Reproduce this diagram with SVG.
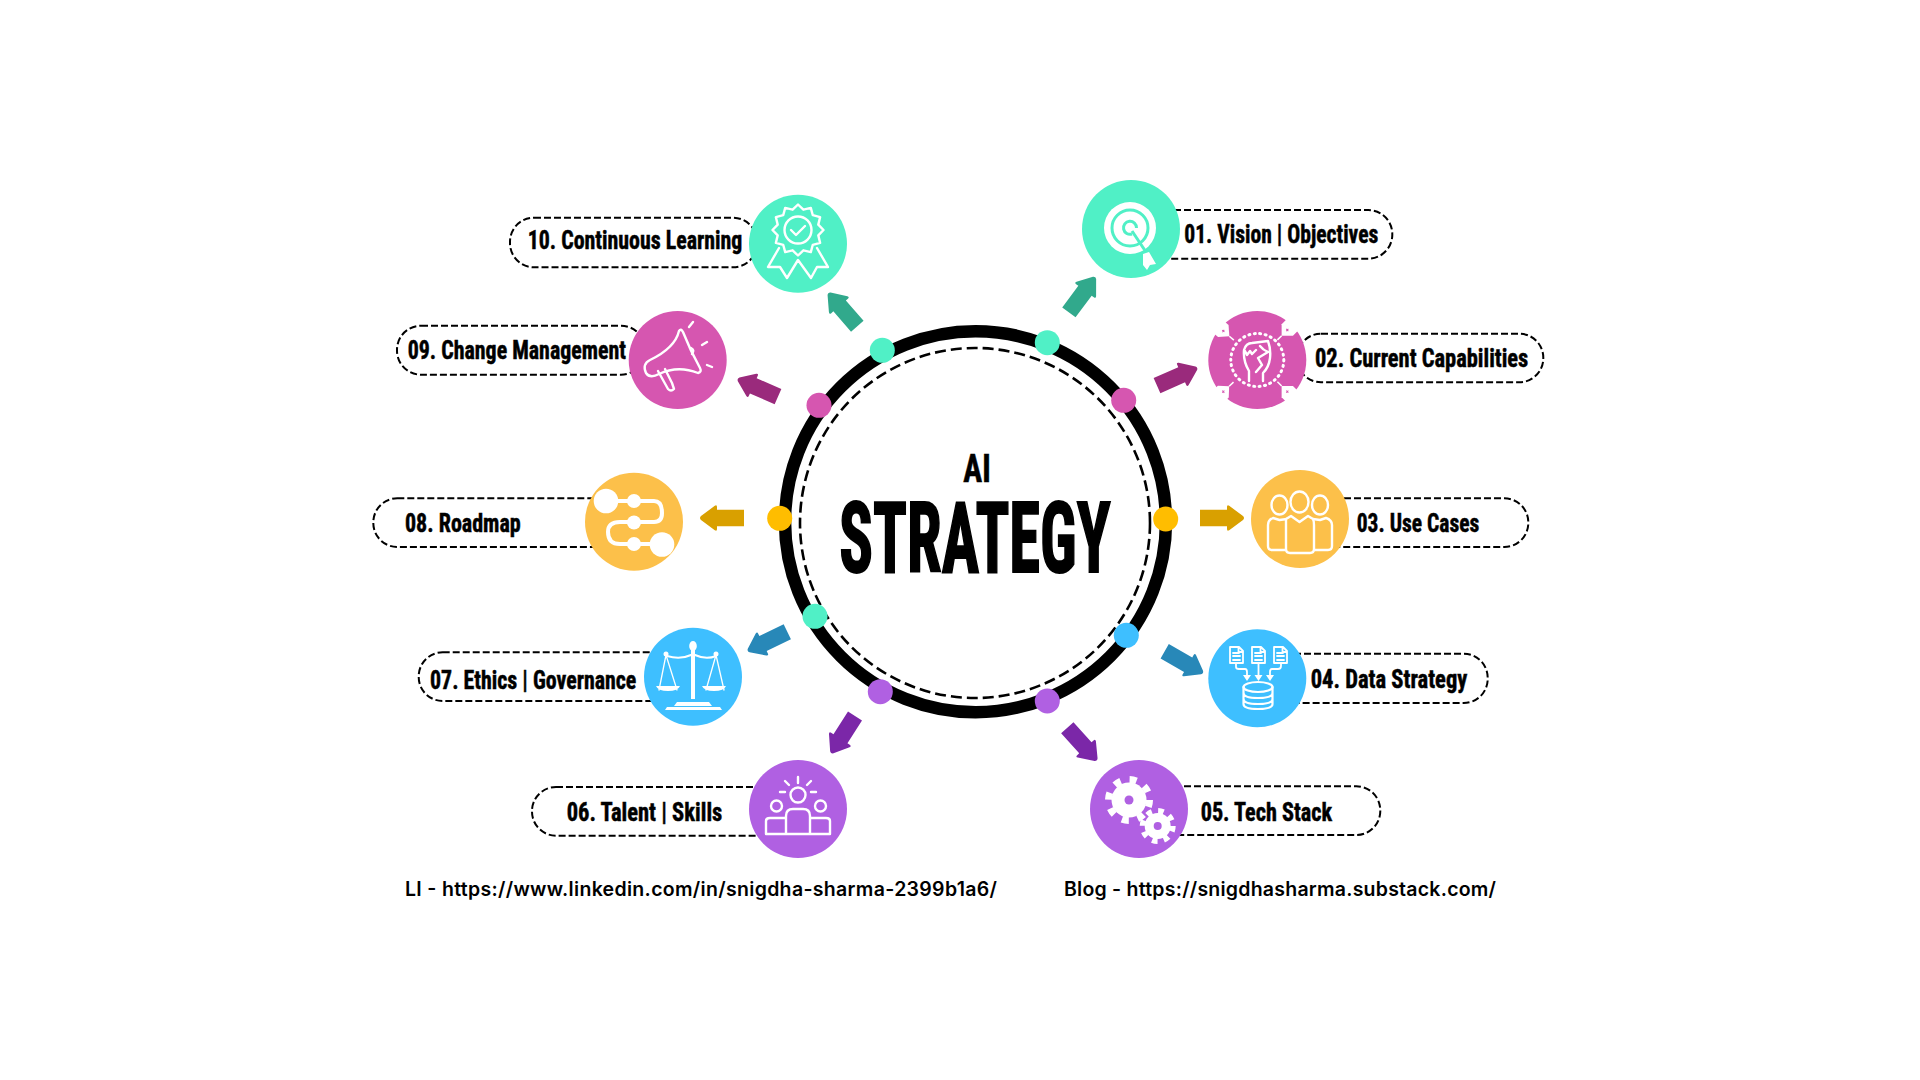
<svg xmlns="http://www.w3.org/2000/svg" width="1920" height="1080" viewBox="0 0 1920 1080">
<style>
text{font-family:"Liberation Sans Narrow","Roboto Condensed","Liberation Sans",sans-serif;font-weight:700;fill:#000}
.lb{font-size:26px;stroke:#000;stroke-width:.5px}
.url{font-family:Inter,"Noto Sans",sans-serif;font-size:19.500px;font-weight:600}
.pill{fill:#fff;stroke:#000;stroke-width:2;stroke-dasharray:7 3}
.ic{fill:none;stroke:#fff;stroke-width:2.4;stroke-linecap:round;stroke-linejoin:round}
.w{fill:#fff}
.teal{fill:#50F0C6}.pink{fill:#D656B0}.yel{fill:#FCC04A}.blue{fill:#3EBFFF}.pur{fill:#B060E2}
</style>
<defs>
<path id="arrow" d="M0 -8.300H27V-11Q27 -13.500 29.200 -12.200L43 -2Q45 0 43 2L29.200 12.200Q27 13.500 27 11V8.300H0Z"/>
<g id="notch"><path class="w" d="M-12 -8L0 -8L8 0L0 8L-12 8Z"/><path d="M8 0H14" stroke="#fff" stroke-width="1.500"/><path d="M-1.500 0H1.500M0 -1.500V1.500" stroke="#D656B0" stroke-width="1"/></g>
</defs>
<rect width="1920" height="1080" fill="#fff"/>
<g id="connectors">
<use href="#arrow" fill="#31A98C" transform="translate(1068.9 312.4) rotate(-53.4)"/>
<use href="#arrow" fill="#9A2A7C" transform="translate(1157 385.7) rotate(-24)"/>
<use href="#arrow" fill="#D9A000" transform="translate(1200 518)"/>
<use href="#arrow" fill="#2888B8" transform="translate(1164.7 651.3) rotate(29.7)"/>
<use href="#arrow" fill="#7B27A8" transform="translate(1067.3 727.7) rotate(48)"/>
<use href="#arrow" fill="#7B27A8" transform="translate(855 716) rotate(122.6)"/>
<use href="#arrow" fill="#2888B8" transform="translate(787.3 631.7) rotate(154)"/>
<use href="#arrow" fill="#D9A000" transform="translate(744 518) rotate(180)"/>
<use href="#arrow" fill="#9A2A7C" transform="translate(778 396.7) rotate(203.8)"/>
<use href="#arrow" fill="#31A98C" transform="translate(857.3 326.3) rotate(229)"/>
</g>
<g id="hub">
<circle cx="975.5" cy="521.7" r="190.5" fill="#fff" stroke="#000" stroke-width="12.5"/>
<circle cx="975" cy="523" r="175" fill="none" stroke="#000" stroke-width="2.6" stroke-dasharray="11 5"/>
<text x="963.3" y="482" font-size="38" textLength="27.4" lengthAdjust="spacingAndGlyphs" stroke="#000" stroke-width=".6">AI</text>
<text x="839.3" y="571.7" font-size="98" textLength="271.4" lengthAdjust="spacingAndGlyphs" stroke="#000" stroke-width="2">STRATEGY</text>
<circle class="teal" cx="882.3" cy="350.3" r="12.5"/><circle class="teal" cx="1047.3" cy="342.7" r="12.5"/>
<circle class="pink" cx="1123.7" cy="400.3" r="12.5"/><circle class="pink" cx="819" cy="405.3" r="12.5"/>
<circle fill="#FFBD00" cx="779.7" cy="518.3" r="12.5"/><circle fill="#FFBD00" cx="1165.7" cy="519" r="12.5"/>
<circle class="teal" cx="815" cy="616.3" r="12.5"/><circle class="blue" cx="1126.3" cy="635.3" r="12.5"/>
<circle class="pur" cx="880.3" cy="691.7" r="12.5"/><circle class="pur" cx="1047.3" cy="701" r="12.5"/>
</g>
<g id="node-01">
<rect class="pill" x="1100" y="210" width="292.3" height="48.7" rx="24"/>
<circle class="teal" cx="1131" cy="229" r="49"/>
<circle class="w" cx="1130" cy="228" r="26"/>
<circle fill="none" stroke="#50F0C6" stroke-width="3" cx="1130" cy="228" r="18"/>
<path fill="none" stroke="#50F0C6" stroke-width="3" d="M1136.500 228A6.500 6.500 0 1 0 1132 234"/>
<path stroke="#50F0C6" stroke-width="3" d="M1132 231L1146 252"/>
<path class="w" d="M1143 254L1149 252L1156 264L1150 265L1147 270L1143 265Z"/>
<text class="lb" x="1184.3" y="242.7" textLength="194" lengthAdjust="spacingAndGlyphs">01. Vision | Objectives</text>
</g>
<g id="node-02">
<rect class="pill" x="1297" y="333.7" width="246.3" height="48.6" rx="24"/>
<circle class="pink" cx="1257.3" cy="360" r="49"/>
<circle cx="1257.3" cy="360" r="26.5" fill="none" stroke="#fff" stroke-width="3" stroke-dasharray="1 4.5" stroke-linecap="round"/>
<use href="#notch" transform="translate(1223.300 331) rotate(41)"/>
<use href="#notch" transform="translate(1287.300 330) rotate(135)"/>
<use href="#notch" transform="translate(1287.300 391.700) rotate(225)"/>
<use href="#notch" transform="translate(1223.300 391.700) rotate(-43)"/>
<path class="ic" d="M1249 381V371Q1243 361 1244 350Q1246 343 1252 343L1268 341Q1271 349 1270 358Q1269 367 1263 373V381M1245 351L1247 355L1250 351L1252 354L1256 350M1260 346Q1263 350 1268 352M1268 352L1258 358L1262 365L1256 372"/>
<text class="lb" x="1315" y="366.7" textLength="213.3" lengthAdjust="spacingAndGlyphs">02. Current Capabilities</text>
</g>
<g id="node-03">
<rect class="pill" x="1260" y="498.3" width="268.3" height="48.7" rx="24"/>
<circle class="yel" cx="1300" cy="519" r="49"/>
<g class="ic">
<ellipse cx="1279.5" cy="505" rx="8" ry="9.5"/><ellipse cx="1320" cy="505" rx="8" ry="9.5"/><ellipse cx="1299.5" cy="502" rx="9" ry="10.5"/>
<path d="M1287 519L1279.5 520L1273 518Q1268 520 1268 525V546Q1268 550 1272 550H1286"/>
<path d="M1313 519L1320 520L1326 518Q1332 520 1332 525V546Q1332 550 1328 550H1314"/>
<path fill="#FCC04A" d="M1286 519L1291 516L1299.5 522L1308 516L1313 519Q1314 521 1314 525V549Q1314 553 1310 553H1290Q1286 553 1286 549Z"/>
</g>
<text class="lb" x="1356.7" y="531.7" textLength="122.6" lengthAdjust="spacingAndGlyphs">03. Use Cases</text>
</g>
<g id="node-04">
<rect class="pill" x="1220" y="653.7" width="267.7" height="49.3" rx="24"/>
<circle class="blue" cx="1257.3" cy="678.3" r="49"/>
<g class="ic" style="stroke-width:1.800">
<path d="M1230 647H1239L1243 651V663H1230ZM1233 653H1239M1233 656H1240M1233 660H1240M1238.500 647V652H1243"/>
<path d="M1252 647H1261L1265 651V663H1252ZM1255 653H1261M1255 656H1262M1255 660H1262M1260.500 647V652H1265"/>
<path d="M1274 647H1283L1287 651V663H1274ZM1277 653H1283M1277 656H1284M1277 660H1284M1282.500 647V652H1287"/>
<path d="M1236 663V667Q1236 669 1239 669H1245Q1247 669 1247 672V677M1258.500 663V677M1281 663V666Q1281 669 1278 669H1272Q1270 669 1270 672V677"/>
</g>
<path class="w" d="M1243 675H1251L1247 681ZM1254.500 675H1262.500L1258.500 681ZM1266 675H1274L1270 681Z"/>
<g class="ic" style="stroke-width:2.200">
<ellipse cx="1258" cy="687" rx="14.500" ry="5"/>
<path d="M1243.500 687V704Q1243.500 709 1258 709Q1272.500 709 1272.500 704V687M1243.500 693Q1243.500 698 1258 698Q1272.500 698 1272.500 693M1243.500 699Q1243.500 704 1258 704Q1272.500 704 1272.500 699"/>
</g>
<text class="lb" x="1310.7" y="687.8" textLength="156.6" lengthAdjust="spacingAndGlyphs">04. Data Strategy</text>
</g>
<g id="node-05">
<rect class="pill" x="1100" y="786.3" width="280.300" height="48.7" rx="24"/>
<circle class="pur" cx="1139" cy="809" r="49"/>
<g id="gears">
<circle cx="1129" cy="800" r="20.500" fill="none" stroke="#fff" stroke-width="7" stroke-dasharray="7 9.100"/>
<circle class="w" cx="1129" cy="800" r="17.500"/>
<circle class="pur" cx="1129" cy="800" r="4.500"/>
<circle cx="1157.700" cy="826" r="15" fill="none" stroke="#fff" stroke-width="6" stroke-dasharray="5.500 6.280"/>
<circle class="w" cx="1157.700" cy="826" r="13"/>
<circle class="pur" cx="1157.700" cy="826" r="4"/>
</g>
<text class="lb" x="1200.7" y="820.7" textLength="131.3" lengthAdjust="spacingAndGlyphs">05. Tech Stack</text>
</g>
<g id="node-06">
<rect class="pill" x="532" y="787" width="300" height="48.7" rx="24"/>
<circle class="pur" cx="798" cy="809" r="49"/>
<g class="ic">
<circle cx="798" cy="795" r="7.500"/><circle cx="776.500" cy="806" r="5.500"/><circle cx="820.500" cy="806" r="5.500"/>
<path d="M798 777V783M785 781L789 785M811 781L807 785M780 792H785M811 792H816"/>
<path d="M786 834V816Q786 809 793 809H803Q810 809 810 816V834M766 834V821Q766 818 770 818H786M810 818H826Q830 818 830 821V834M766 834H830"/>
</g>
<text class="lb" x="566.7" y="820.7" textLength="155.600" lengthAdjust="spacingAndGlyphs">06. Talent | Skills</text>
</g>
<g id="node-07">
<rect class="pill" x="418.700" y="652.3" width="300" height="48.7" rx="24"/>
<circle class="blue" cx="693" cy="676.7" r="49"/>
<path class="w" d="M691 650H695V699H691ZM665 710H722L720 707H667ZM674 706H712L709 702H677Z"/>
<ellipse class="w" cx="693" cy="646" rx="3.800" ry="5"/>
<circle class="w" cx="666" cy="654" r="2.500"/><circle class="w" cx="716" cy="654" r="2.500"/>
<path class="ic" style="stroke-width:2" d="M667 656Q680 660 691 655M695 655Q706 660 716 656"/>
<path class="ic" style="stroke-width:1.300" d="M666 655L659 690M666 655L677 690M716 655L706 690M716 655L724 690"/>
<path class="w" d="M656 686H680Q678 691 668 691Q658 691 656 686ZM702 686H726Q724 691 714 691Q704 691 702 686Z"/>
<text class="lb" x="430" y="688.500" textLength="206.300" lengthAdjust="spacingAndGlyphs">07. Ethics | Governance</text>
</g>
<g id="node-08">
<rect class="pill" x="373.300" y="498.3" width="300" height="48.7" rx="24"/>
<circle class="yel" cx="634" cy="521.7" r="49"/>
<path fill="none" stroke="#fff" stroke-width="4" d="M606 501H654Q662 501 662 513Q662 522 654 522H620Q608 522 608 532Q608 544 620 544H662"/>
<circle class="w" cx="606" cy="501" r="12.300"/><circle class="w" cx="634" cy="501" r="7"/><circle class="w" cx="634" cy="522.500" r="7"/><circle class="w" cx="634" cy="544" r="7"/><circle class="w" cx="662" cy="544.500" r="12.300"/>
<text class="lb" x="405" y="531.7" textLength="115.700" lengthAdjust="spacingAndGlyphs">08. Roadmap</text>
</g>
<g id="node-09">
<rect class="pill" x="397" y="325.7" width="248" height="49" rx="24"/>
<circle class="pink" cx="677.7" cy="360" r="49"/>
<g class="ic">
<path d="M679 331Q675 348 650 360Q642 364 646 373Q650 379 659 374Q678 365 698 373Q702 372 700 368Q690 350 683 332Q681 328 679 331Z"/>
<path d="M658 371L668 389Q671 392 674 389L672 383L665 369"/>
<path d="M691 348Q695 350 692 354"/>
<path d="M689 327L693 322M702 345L707 342M707 365L712 367"/>
</g>
<text class="lb" x="407.700" y="359.300" textLength="218.300" lengthAdjust="spacingAndGlyphs">09. Change Management</text>
</g>
<g id="node-10">
<rect class="pill" x="510" y="217.700" width="247" height="49.600" rx="24"/>
<circle class="teal" cx="798" cy="243.700" r="49"/>
<g class="ic">
<path d="M823.500 230L818.300 235.400L820.100 242.800L812.800 244.800L810.800 252.100L803.400 250.300L798 255.500L792.600 250.300L785.200 252.100L783.200 244.800L775.900 242.800L777.700 235.400L772.500 230L777.700 224.600L775.900 217.200L783.200 215.200L785.200 207.900L792.600 209.700L798 204.500L803.400 209.700L810.800 207.900L812.800 215.200L820.100 217.200L818.300 224.600Z"/>
<circle cx="798" cy="230" r="13.500"/>
<path d="M791 230L796 235L805 226"/>
<path d="M779 248L768 267L780 267L787 278L798 260L811 278L817 267L828 267L817 248"/>
</g>
<text class="lb" x="527.700" y="249.300" textLength="214.600" lengthAdjust="spacingAndGlyphs">10. Continuous Learning</text>
</g>
<g id="links">
<text class="url" x="405" y="896" textLength="592" lengthAdjust="spacing">LI - https://www.linkedin.com/in/snigdha-sharma-2399b1a6/</text>
<text class="url" x="1064" y="896" textLength="432" lengthAdjust="spacing">Blog - https://snigdhasharma.substack.com/</text>
</g>
</svg>
